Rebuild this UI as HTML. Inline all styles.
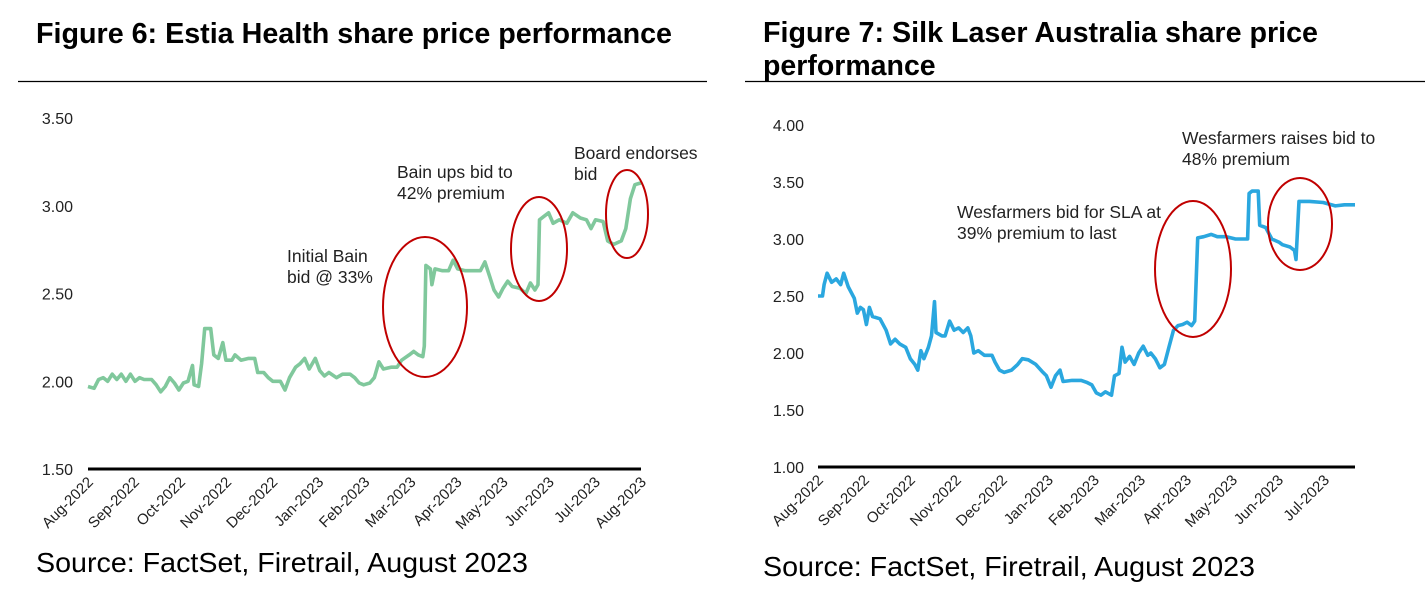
<!DOCTYPE html>
<html><head><meta charset="utf-8"><style>
body{margin:0;width:1425px;height:602px;background:#fff;overflow:hidden;font-family:"Liberation Sans",Arial,sans-serif}
svg{position:absolute;left:0;top:0}
</style></head><body>
<svg id="s" width="1425" height="602" font-family="Liberation Sans, Arial, sans-serif">
<text x="36" y="43" font-size="28.5" font-weight="bold" textLength="636" lengthAdjust="spacingAndGlyphs">Figure 6: Estia Health share price performance</text>
<line x1="18" y1="81.5" x2="707" y2="81.5" stroke="#000" stroke-width="1.3"/>
<text x="763" y="42" font-size="28.5" font-weight="bold"><tspan textLength="555" lengthAdjust="spacingAndGlyphs">Figure 7: Silk Laser Australia share price</tspan><tspan x="763" y="75">performance</tspan></text>
<line x1="745" y1="81.5" x2="1425" y2="81.5" stroke="#000" stroke-width="1.3"/>
<text x="36" y="572" font-size="28" textLength="492" lengthAdjust="spacingAndGlyphs">Source: FactSet, Firetrail, August 2023</text>
<text x="763" y="576" font-size="28" textLength="492" lengthAdjust="spacingAndGlyphs">Source: FactSet, Firetrail, August 2023</text>
<g id="c1"></g>
<g id="c2"></g>
</svg>
<script>
// Estia Health
const estiaDays = [0,4,7,10,13,16,19,22,25,28,31,34,37,42,45,48,51,54,57,60,63,66,69,70,73,75,77,81,83,86,89,91,95,97,101,106,110,112,116,119,122,127,130,133,137,140,143,146,150,153,156,159,164,168,173,176,179,182,186,189,192,195,200,204,207,212,215,218,221,222,223,226,227,229,234,238,241,244,249,255,259,262,265,268,271,274,277,280,285,289,292,295,297,298,301,304,307,311,316,320,325,329,332,335,340,343,347,352,355,358,361,365];
const estiaPrice = [1.97,1.96,2.01,2.02,2.00,2.04,2.01,2.04,2.00,2.04,2.00,2.02,2.01,2.01,1.98,1.94,1.97,2.02,1.99,1.95,1.99,2.00,2.09,1.98,1.97,2.10,2.30,2.30,2.15,2.13,2.22,2.12,2.12,2.15,2.12,2.13,2.13,2.05,2.05,2.02,2.00,2.00,1.95,2.02,2.08,2.10,2.13,2.07,2.13,2.06,2.03,2.05,2.02,2.04,2.04,2.02,1.99,1.98,1.99,2.02,2.11,2.07,2.08,2.08,2.12,2.15,2.17,2.15,2.14,2.20,2.66,2.64,2.55,2.64,2.63,2.63,2.69,2.64,2.63,2.63,2.63,2.68,2.60,2.52,2.48,2.53,2.57,2.54,2.53,2.50,2.56,2.52,2.55,2.92,2.94,2.96,2.90,2.92,2.90,2.96,2.93,2.92,2.87,2.92,2.91,2.80,2.78,2.80,2.87,3.04,3.12,3.13];
const estiaTicks = ["3.50","3.00","2.50","2.00","1.50"];
const estiaMonths = ["Aug-2022","Sep-2022","Oct-2022","Nov-2022","Dec-2022","Jan-2023","Feb-2023","Mar-2023","Apr-2023","May-2023","Jun-2023","Jul-2023","Aug-2023"];
// Silk Laser
const silkDays = [0,3,4,6,9,12,15,17,20,24,26,28,30,32,34,36,41,45,48,51,54,58,61,64,66,68,70,73,75,77,78,82,84,87,90,93,96,99,101,103,106,110,115,117,120,123,128,132,135,139,144,148,151,154,157,160,162,168,174,178,181,184,187,190,194,196,199,201,203,206,209,212,215,218,220,223,226,229,232,235,238,241,244,247,249,251,255,260,264,270,276,281,284,285,287,291,292,296,300,305,307,312,315,316,318,325,334,342,348,355];
const silkPrice = [2.50,2.50,2.60,2.70,2.62,2.65,2.60,2.70,2.58,2.48,2.35,2.40,2.38,2.25,2.40,2.32,2.30,2.20,2.08,2.12,2.08,2.05,1.95,1.90,1.85,2.02,1.95,2.05,2.15,2.45,2.18,2.15,2.15,2.28,2.20,2.22,2.18,2.22,2.15,2.00,2.02,1.98,1.98,1.92,1.85,1.83,1.85,1.90,1.95,1.94,1.90,1.84,1.80,1.70,1.80,1.85,1.75,1.76,1.76,1.74,1.72,1.65,1.63,1.66,1.63,1.80,1.82,2.05,1.92,1.97,1.90,2.00,2.06,1.98,2.00,1.95,1.87,1.90,2.05,2.20,2.24,2.25,2.27,2.24,2.28,3.01,3.02,3.04,3.02,3.02,3.00,3.00,3.00,3.40,3.42,3.42,3.12,3.10,3.00,2.97,2.95,2.93,2.90,2.82,3.33,3.33,3.32,3.29,3.30,3.30];
const silkTicks = ["4.00","3.50","3.00","2.50","2.00","1.50","1.00"];
const silkMonths = ["Aug-2022","Sep-2022","Oct-2022","Nov-2022","Dec-2022","Jan-2023","Feb-2023","Mar-2023","Apr-2023","May-2023","Jun-2023","Jul-2023"];

const NS="http://www.w3.org/2000/svg";
function mk(parent,tag,attrs){const e=document.createElementNS(NS,tag);for(const k in attrs)e.setAttribute(k,attrs[k]);parent.appendChild(e);return e;}

function draw(g,cfg){
  const xs=d=>cfg.x0+(d-cfg.d0)/(cfg.d1-cfg.d0)*(cfg.x1-cfg.x0);
  const ys=v=>cfg.yBot-(v-cfg.vMin)/(cfg.vMax-cfg.vMin)*(cfg.yBot-cfg.yTop);
  cfg.ticks.forEach(t=>{
    const e=mk(g,'text',{x:cfg.labelX,y:ys(parseFloat(t))+6,'font-size':16,'text-anchor':'end',fill:'#222'});
    
    
    e.textContent=t;
  });
  const ax=mk(g,'line',{x1:cfg.x0,x2:cfg.x1,y1:cfg.yBot,y2:cfg.yBot,stroke:'#000','stroke-width':3});
  
  
  cfg.months.forEach((m,i)=>{
    const x=xs(i*cfg.monthDays);
    const e=mk(g,'text',{x:x+6,y:cfg.yBot+14,'font-size':15,'text-anchor':'end',fill:'#222',transform:`rotate(-45 ${x+6} ${cfg.yBot+14})`});
    
    
    e.textContent=m;
  });
  let d='';
  cfg.days.forEach((dd,i)=>{d+=(i?'L':'M')+xs(dd).toFixed(1)+','+ys(cfg.vals[i]).toFixed(1);});
  const p=mk(g,'path',{d:d,fill:'none',stroke:cfg.color,'stroke-width':3.6,'stroke-linejoin':'round'});
  
  
}
const g1=document.getElementById('c1'), g2=document.getElementById('c2');
draw(g1,{x0:88,x1:641,d0:0,d1:365,yTop:118,yBot:469,vMin:1.5,vMax:3.5,labelX:73,ticks:estiaTicks,months:estiaMonths,monthDays:30.42,days:estiaDays,vals:estiaPrice,color:'#80c89c'});
draw(g2,{x0:818,x1:1355,d0:0,d1:355,yTop:125,yBot:467,vMin:1.0,vMax:4.0,labelX:804,ticks:silkTicks,months:silkMonths,monthDays:30.42,days:silkDays,vals:silkPrice,color:'#2aa7df'});

function ell(g,cx,cy,rx,ry,name){
  const e=mk(g,'ellipse',{cx:cx,cy:cy,rx:rx,ry:ry,fill:'none',stroke:'#c00000','stroke-width':2});
  
  
}
function note(g,x,y,lines,name){
  const t=mk(g,'text',{x:x,y:y,'font-size':17.5,fill:'#222'});
  
  
  lines.forEach((l,i)=>{const s=mk(t,'tspan',{x:x,y:y+i*21});s.textContent=l;});
}
ell(g1,425,307,42,70,'initial-bid-circle');
ell(g1,539,249,28,52,'bid-raise-circle');
ell(g1,627,214,21,44,'board-endorse-circle');
note(g1,287,262,['Initial Bain','bid @ 33%'],'initial-bid-note');
note(g1,397,178,['Bain ups bid to','42% premium'],'bid-raise-note');
note(g1,574,159,['Board endorses','bid'],'board-endorse-note');
ell(g2,1193,269,38,68,'wesfarmers-bid-circle');
ell(g2,1300,224,32,46,'wesfarmers-raise-circle');
note(g2,957,218,['Wesfarmers bid for SLA at','39% premium to last'],'wesfarmers-bid-note');
note(g2,1182,144,['Wesfarmers raises bid to','48% premium'],'wesfarmers-raise-note');
</script>
</body></html>
